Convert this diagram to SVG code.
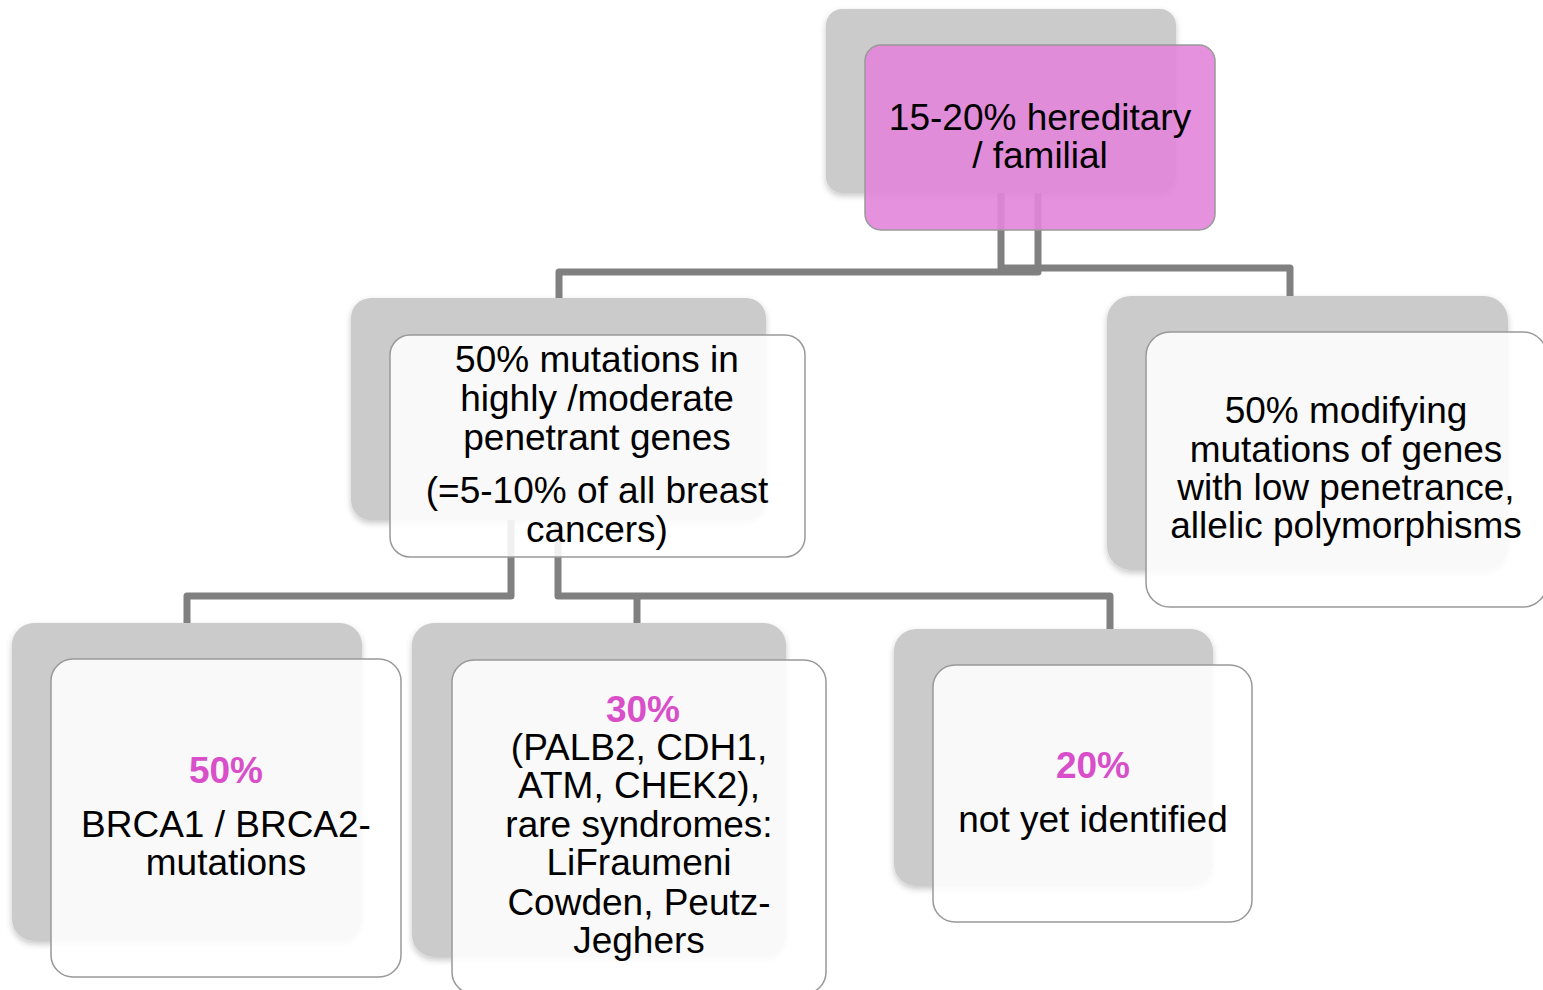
<svg xmlns="http://www.w3.org/2000/svg" width="1543" height="990" viewBox="0 0 1543 990">
  <defs>
    <filter id="ds" x="-10%" y="-10%" width="120%" height="125%">
      <feDropShadow dx="0" dy="3" stdDeviation="3" flood-color="#000" flood-opacity="0.22"/>
    </filter>
    <style>
      .back { fill: #cbcbcb; filter: url(#ds); }
      .front { fill: #ffffff; fill-opacity: 0.88; stroke: #999999; stroke-width: 1.5; }
      .pink { fill: #e285d9; fill-opacity: 0.9; stroke: #999999; stroke-width: 1.5; }
      .conn { fill: none; stroke: #808080; stroke-width: 7; stroke-linejoin: round; }
      text { font-family: "Liberation Sans", Arial, sans-serif; font-size: 37px; fill: #000; text-anchor: middle; }
      .pct { font-weight: bold; fill: #d84fc9; }
    </style>
  </defs>
  <rect width="1543" height="990" fill="#ffffff"/>

  <!-- back cards -->
  <g id="backs">
    <rect class="back" x="826" y="9" width="350" height="184" rx="16"/>
    <rect class="back" x="351" y="298" width="415" height="222" rx="20"/>
    <rect class="back" x="1107" y="296" width="401" height="274" rx="24"/>
    <rect class="back" x="12" y="623" width="350" height="318" rx="22"/>
    <rect class="back" x="412" y="623" width="374" height="334" rx="22"/>
    <rect class="back" x="894" y="629" width="319" height="257" rx="22"/>
  </g>

  <!-- connectors -->
  <g id="connectors">
    <path class="conn" d="M1001,193 V268 H1290 V296"/>
    <path class="conn" d="M1038,193 V272 H559 V298"/>
    <path class="conn" d="M511,520 V596 H187 V623"/>
    <path class="conn" d="M558,520 V596 H1110 V629"/>
    <path class="conn" d="M637,596 V623"/>
  </g>

  <g id="node-hereditary">
    <rect class="pink" x="865" y="45" width="350" height="185" rx="16"/>
    <text x="1040" y="130">15-20% hereditary</text>
    <text x="1040" y="168">/ familial</text>
  </g>

  <g id="node-high-penetrant">
    <rect class="front" x="390" y="335" width="415" height="222" rx="20"/>
    <text x="597" y="372">50% mutations in</text>
    <text x="597" y="411">highly /moderate</text>
    <text x="597" y="450">penetrant genes</text>
    <text x="597" y="503">(=5-10% of all breast</text>
    <text x="597" y="542">cancers)</text>
  </g>

  <g id="node-low-penetrance">
    <rect class="front" x="1146" y="332" width="401" height="275" rx="24"/>
    <text x="1346" y="423">50% modifying</text>
    <text x="1346" y="462">mutations of genes</text>
    <text x="1346" y="500">with low penetrance,</text>
    <text x="1346" y="538">allelic polymorphisms</text>
  </g>

  <g id="node-brca">
    <rect class="front" x="51" y="659" width="350" height="318" rx="22"/>
    <text class="pct" x="226" y="783">50%</text>
    <text x="226" y="837">BRCA1 / BRCA2-</text>
    <text x="226" y="875">mutations</text>
  </g>

  <g id="node-other-genes">
    <rect class="front" x="452" y="660" width="374" height="334" rx="22"/>
    <text class="pct" x="643" y="722">30%</text>
    <text x="639" y="760">(PALB2, CDH1,</text>
    <text x="639" y="798">ATM, CHEK2),</text>
    <text x="639" y="837">rare syndromes:</text>
    <text x="639" y="875">LiFraumeni</text>
    <text x="639" y="915">Cowden, Peutz-</text>
    <text x="639" y="953">Jeghers</text>
  </g>

  <g id="node-unknown">
    <rect class="front" x="933" y="665" width="319" height="257" rx="22"/>
    <text class="pct" x="1093" y="778">20%</text>
    <text x="1093" y="832">not yet identified</text>
  </g>
</svg>
